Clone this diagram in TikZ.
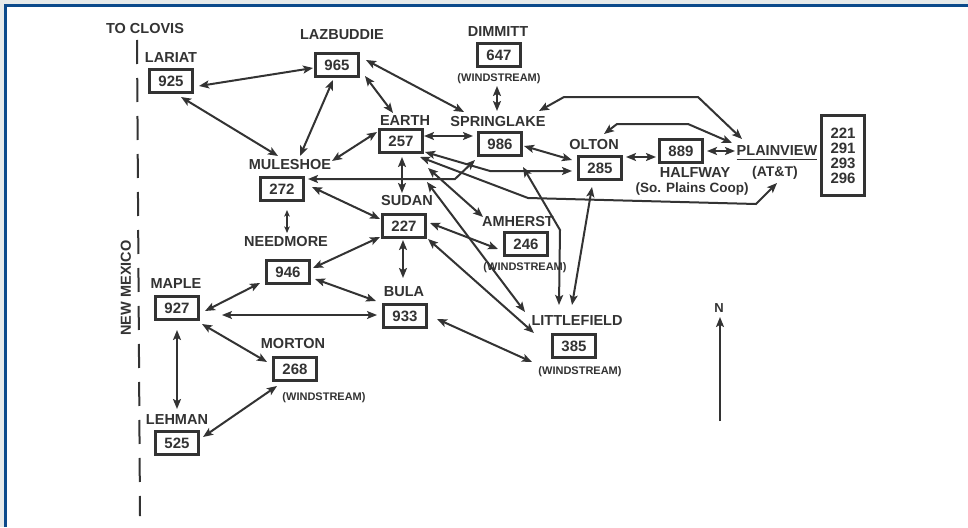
\documentclass[tikz,border=0pt]{standalone}
\usepackage{fontspec}
\setmainfont{Liberation Sans}
\usetikzlibrary{arrows.meta,calc}
\definecolor{ink}{HTML}{333333}
\definecolor{frameblue}{HTML}{0B4A8B}
\definecolor{outerbg}{HTML}{E6EAEA}
\tikzset{
  box/.style={draw=ink,line width=3.6pt,minimum width=43pt,minimum height=23pt,inner sep=0pt,
    font=\fontsize{15}{15}\selectfont\bfseries,text=ink,fill=white},
  lab/.style={font=\fontsize{14.5}{15}\selectfont\bfseries,text=ink,inner sep=0pt},
  ws/.style={font=\fontsize{11}{11}\selectfont\bfseries,text=ink,inner sep=0pt},
  tipa/.tip={Stealth[length=10pt,width=8pt,inset=2.2pt]},
  tipb/.tip={Stealth[length=6.5pt,width=5.5pt,inset=1.5pt]},
  arr/.style={draw=ink,line width=2pt,line join=miter,tipa-tipa},
  thinarr/.style={draw=ink,line width=1.4pt,tipa-tipa},
  smallarr/.style={draw=ink,line width=1.2pt,tipb-tipb},
  onearr/.style={draw=ink,line width=2pt,-tipa},
  border/.style={draw=ink,line width=2pt,dash pattern=on 24pt off 14pt}
}
\begin{document}
\begin{tikzpicture}[x=1pt,y=-1pt]
\useasboundingbox (0,0) rectangle (968,527);
\fill[outerbg] (0,0) rectangle (968,527);
\fill[white] (4,4) rectangle (968,527);
\draw[frameblue,line width=3pt] (5.5,527) -- (5.5,5.5) -- (968,5.5);

% state line
\coordinate (nmtop) at (137,40);
\coordinate (nmbot) at (140,516);
\draw[border] (nmtop) -- (nmbot);
\node[lab,rotate=90] (lnm) at (126,288) {NEW MEXICO};
\node[lab] (lclovis) at (145,29) {TO CLOVIS};

% boxes
\node[box] (b925) at (171,81) {925};
\node[box] (b965) at (337,65) {965};
\node[box] (b647) at (499,55) {647};
\node[box] (b257) at (401,141) {257};
\node[box] (b986) at (500,144) {986};
\node[box] (b272) at (282,189) {272};
\node[box] (b285) at (600,168) {285};
\node[box] (b889) at (681,151) {889};
\node[box] (b227) at (404,226) {227};
\node[box] (b246) at (526,244) {246};
\node[box] (b946) at (288,272) {946};
\node[box] (b927) at (177,308) {927};
\node[box] (b933) at (405,316) {933};
\node[box] (b268) at (295,369) {268};
\node[box] (b385) at (574,346) {385};
\node[box] (b525) at (177,443) {525};
\node[box,minimum height=80pt,align=center] (bpv) at (843,155.5)
  {\fontsize{15}{17.8}\selectfont\bfseries 221\\291\\293\\296};

% labels
\node[lab] (llariat) at (171,58) {LARIAT};
\node[lab] (llaz) at (342,35) {LAZBUDDIE};
\node[lab] (ldim) at (498,32) {DIMMITT};
\node[ws] (wdim) at (499,79) {(WINDSTREAM)};
\node[lab] (learth) at (405,121) {EARTH};
\node[lab] (lspring) at (498,122) {SPRINGLAKE};
\node[lab] (lmule) at (290,165) {MULESHOE};
\node[lab] (lolton) at (594,145) {OLTON};
\node[lab] (lhalf) at (695,173) {HALFWAY};
\node[lab,font=\fontsize{13.5}{14}\selectfont\bfseries] (lcoop) at (692,189) {(So. Plains Coop)};
\node[lab] (lpv) at (777,151) {PLAINVIEW};
\draw[ink,line width=1pt] ($(lpv.south west)+(0,3.5)$) -- ($(lpv.south east)+(0,3.5)$);
\node[lab,font=\fontsize{14}{14}\selectfont\bfseries] (latt) at (775,173) {(AT\&T)};
\node[lab] (lsudan) at (407,201) {SUDAN};
\node[lab] (lamh) at (518,222) {AMHERST};
\node[ws] (wamh) at (525,268) {(WINDSTREAM)};
\node[lab] (lneed) at (286,242) {NEEDMORE};
\node[lab] (lmaple) at (176,284) {MAPLE};
\node[lab] (lbula) at (404,292) {BULA};
\node[lab] (llittle) at (577,321) {LITTLEFIELD};
\node[ws] (wlittle) at (580,372) {(WINDSTREAM)};
\node[lab] (lmorton) at (293,344) {MORTON};
\node[ws] (wmorton) at (324,398) {(WINDSTREAM)};
\node[lab] (llehman) at (177,420) {LEHMAN};
\node[lab,font=\fontsize{13}{13}\selectfont\bfseries] (lN) at (719,308) {N};

% connectors
\draw[arr] ($(b925.center)+(28,5)$) -- ($(b965.center)+(-24,3)$);
\draw[arr] ($(b925.center)+(10,16)$) -- ($(lmule.center)+(-12,-9)$);
\draw[arr] ($(b965.center)+(-4,15)$) -- ($(lmule.center)+(10,-9)$);
\draw[arr] ($(b965.center)+(28,11)$) -- ($(learth.center)+(-12,-8)$);
\draw[arr] ($(b965.center)+(29,-5)$) -- ($(lspring.center)+(-34,-10)$);
\draw[arr] ($(wdim.center)+(-2,7)$) -- ($(lspring.center)+(-1,-11)$);
\draw[arr] ($(lspring.center)+(41,-11)$) -- (564,97) -- (698,97) -- ($(lpv.center)+(-35,-12)$);
\draw[arr] ($(lolton.center)+(10,-11)$) -- (617,124) -- (688,124) -- ($(lpv.center)+(-45,-8)$);
\draw[arr] ($(b889.center)+(26,0)$) -- ($(lpv.center)+(-42,0)$);
\draw[arr] ($(b285.center)+(26,-11)$) -- ($(b889.center)+(-25,6)$);
\draw[arr] ($(b986.center)+(24,2)$) -- ($(b285.center)+(-28,-8)$);
\draw[arr] ($(b257.center)+(23,-5)$) -- ($(b986.center)+(-27,-8)$);
\draw[arr] ($(b257.center)+(-24,-9)$) -- ($(lmule.center)+(42,-4)$);
\draw[arr] ($(b257.center)+(1,16)$) -- ($(lsudan.center)+(-5,-8)$);
\draw[arr] ($(b986.center)+(-25,16)$) -- (455,179) -- ($(b272.center)+(26,-10)$);
\draw[arr] ($(b257.center)+(24,11)$) -- (490,171) -- ($(b285.center)+(-28,3)$);
\draw[arr] ($(b257.center)+(19,16)$) -- (528,198) -- (756,204) -- ($(latt.center)+(2,10)$);
\draw[arr] ($(b257.center)+(27,27)$) -- ($(lamh.center)+(-35,-5)$);
\draw[arr] ($(b257.center)+(26,41)$) -- ($(llittle.center)+(-52,-9)$);
\draw[arr] ($(b986.center)+(23,23)$) -- (560,230) -- ($(llittle.center)+(-18,-16)$);
\draw[arr] ($(b285.center)+(-8,19)$) -- ($(llittle.center)+(-5,-16)$);
\draw[arr] ($(b227.center)+(26,-3)$) -- ($(b246.center)+(-28,5)$);
\draw[arr] ($(b227.center)+(24,13)$) -- ($(llittle.center)+(-43,12)$);
\draw[arr] ($(b272.center)+(30,-2)$) -- ($(b227.center)+(-24,-7)$);
\draw[smallarr] ($(b272.center)+(5,21)$) -- ($(lneed.center)+(1,-9)$);
\draw[arr] ($(b946.center)+(25,-4)$) -- ($(b227.center)+(-24,11)$);
\draw[arr] ($(b946.center)+(27,7)$) -- ($(lbula.center)+(-28,9)$);
\draw[arr] ($(b227.center)+(-1,14)$) -- ($(lbula.center)+(-1,-14)$);
\draw[arr] ($(b927.center)+(28,3)$) -- ($(b946.center)+(-28,11)$);
\draw[thinarr] ($(b927.center)+(45,7)$) -- ($(b933.center)+(-28,-1)$);
\draw[arr] ($(b927.center)+(25,16)$) -- ($(b268.center)+(-28,-7)$);
\draw[arr] ($(b927.center)+(0,22)$) -- ($(llehman.center)+(0,-11)$);
\draw[arr] ($(b268.center)+(-18,17)$) -- ($(b525.center)+(26,-6)$);
\draw[arr] ($(b933.center)+(32,3)$) -- ($(b385.center)+(-42,16)$);
\draw[onearr] ($(lN.center)+(1,113)$) -- ($(lN.center)+(1,9)$);
\end{tikzpicture}
\end{document}
